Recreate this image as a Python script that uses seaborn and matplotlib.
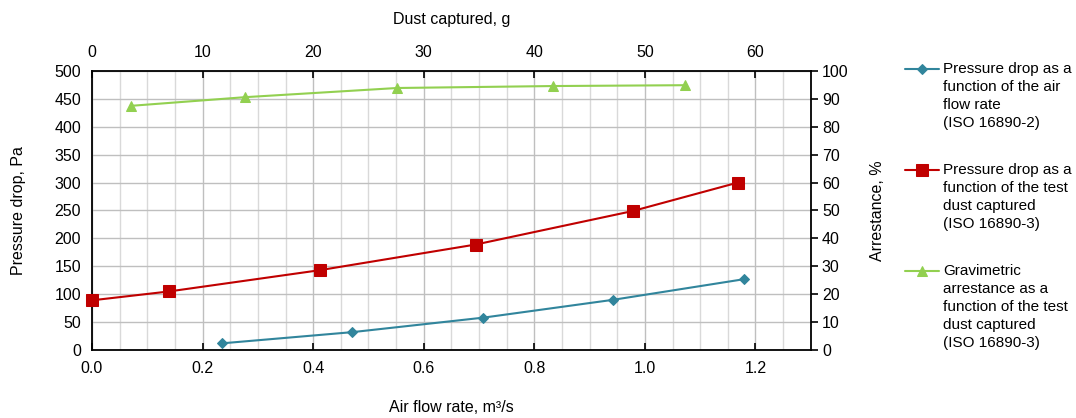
import numpy as np
import pandas as pd
import matplotlib
matplotlib.use("Agg")
import matplotlib.pyplot as plt
import seaborn as sns
from matplotlib.ticker import MultipleLocator
from matplotlib.legend_handler import HandlerLine2D

# ---- data ----
flow_rate = [0.236, 0.471, 0.708, 0.943, 1.180]          # m³/s
dp_flow = [12, 32, 58, 90, 127]                           # Pa

dust_dp = [0.0, 7.0, 20.6, 34.7, 48.9, 58.4]              # g
dp_dust = [89, 105, 143, 189, 249, 300]                   # Pa

dust_arr = [3.5, 13.8, 27.6, 41.7, 53.6]                  # g
arrestance = [87.5, 90.6, 93.9, 94.6, 94.9]               # %

labels = [
    "Pressure drop as a\nfunction of the air\nflow rate\n(ISO 16890-2)",
    "Pressure drop as a\nfunction of the test\ndust captured\n(ISO 16890-3)",
    "Gravimetric\narrestance as a\nfunction of the test\ndust captured\n(ISO 16890-3)",
]
colors = ["#31859C", "#C00000", "#92D050"]

sns.set_style("white")
plt.rcParams["font.family"] = ["Liberation Sans", "DejaVu Sans"]
plt.rcParams["text.color"] = "black"
plt.rcParams["axes.labelcolor"] = "black"
FS = 11.5
LS = 1.37

fig = plt.figure(figsize=(10.76, 4.18), dpi=100)
ax = fig.add_axes([0.0855, 0.1627, 0.668, 0.6675])
ax_top = ax.twiny()
ax_right = ax_top.twinx()

# gridlines (bottom axis minor 0.05, top axis major 10 g, left axis 50 Pa)
ax.set_xlim(0, 1.3)
ax.set_ylim(0, 500)
ax.xaxis.set_major_locator(MultipleLocator(0.2))
ax.xaxis.set_minor_locator(MultipleLocator(0.05))
ax.yaxis.set_major_locator(MultipleLocator(50))
ax.grid(which="minor", axis="x", color="#D9D9D9", lw=1.0)
ax.grid(which="major", axis="both", color="#BFBFBF", lw=1.0)
ax.set_axisbelow(True)

ax_top.set_xlim(0, 65)
ax_top.xaxis.set_major_locator(MultipleLocator(10))
ax_right.set_ylim(0, 100)
ax_right.yaxis.set_major_locator(MultipleLocator(10))

df1 = pd.DataFrame({"x": flow_rate, "y": dp_flow})
df2 = pd.DataFrame({"x": dust_dp, "y": dp_dust})
df3 = pd.DataFrame({"x": dust_arr, "y": arrestance})

sns.lineplot(data=df1, x="x", y="y", ax=ax, color=colors[0], marker="D",
             markersize=5, markeredgecolor=colors[0], lw=1.5, clip_on=False)
sns.lineplot(data=df2, x="x", y="y", ax=ax_top, color=colors[1], marker="s",
             markersize=8, markeredgecolor=colors[1], lw=1.5, clip_on=False)
sns.lineplot(data=df3, x="x", y="y", ax=ax_right, color=colors[2], marker="^",
             markersize=7, markeredgecolor=colors[2], lw=1.5, clip_on=False)

ax.set_xlim(0, 1.3)
ax.set_ylim(0, 500)
ax_top.set_xlim(0, 65)
ax_top.set_ylim(0, 500)
ax_right.set_ylim(0, 100)

ax.xaxis.set_major_formatter(plt.FuncFormatter(lambda v, p: f"{v:.1f}"))
for a in (ax, ax_top, ax_right):
    for s in a.spines.values():
        s.set_visible(False)
    a.tick_params(labelsize=FS, colors="black", length=5, width=1.2)
    a.tick_params(which="minor", length=0)
ax.spines["left"].set_visible(True)
ax.spines["bottom"].set_visible(True)
ax_top.spines["top"].set_visible(True)
ax_right.spines["right"].set_visible(True)
for a, k in ((ax, "left"), (ax, "bottom"), (ax_top, "top"), (ax_right, "right")):
    a.spines[k].set_color("black")
    a.spines[k].set_linewidth(1.3)
ax.tick_params(axis="x", direction="in", pad=8)
ax.tick_params(axis="y", direction="out", pad=3)
ax_top.tick_params(axis="x", direction="in", pad=8)
ax_right.tick_params(axis="y", direction="out", pad=3)

ax.set_xlabel("Air flow rate, m³/s", fontsize=FS)
ax.set_ylabel("Pressure drop, Pa", fontsize=FS)
ax_top.set_xlabel("Dust captured, g", fontsize=FS)
ax_right.set_ylabel("Arrestance, %", fontsize=FS)
ax.xaxis.set_label_coords(0.5, -0.18)
ax.yaxis.set_label_coords(-0.092, 0.5)
ax_top.xaxis.set_label_coords(0.5, 1.17)
ax_right.yaxis.set_label_coords(1.083, 0.5)
ax_right.yaxis.label.set_va("top")


class TopLineHandler(HandlerLine2D):
    """Align the legend handle with the first text line."""
    def __init__(self, nlines, **kw):
        super().__init__(**kw)
        self.nlines = nlines

    def create_artists(self, legend, orig_handle, xdescent, ydescent, width,
                       height, fontsize, trans):
        arts = super().create_artists(legend, orig_handle, xdescent, ydescent,
                                      width, height, fontsize, trans)
        off = (self.nlines - 1) * 0.59 * fontsize
        for a in arts:
            a.set_ydata(np.asarray(a.get_ydata()) + off)
        return arts


handles = [ax.lines[0], ax_top.lines[0], ax_right.lines[0]]
hmap = {h: TopLineHandler(lab.count("\n") + 1) for h, lab in zip(handles, labels)}
leg = fig.legend(handles, labels, loc="upper left", bbox_to_anchor=(0.837, 0.863),
                 frameon=False, fontsize=11, handlelength=2.2, handletextpad=0.3,
                 labelspacing=2.15, borderaxespad=0, borderpad=0.3,
                 handler_map=hmap)
for t in leg.get_texts():
    t.set_linespacing(LS)

fig.savefig("out.png", dpi=100, facecolor="white")
